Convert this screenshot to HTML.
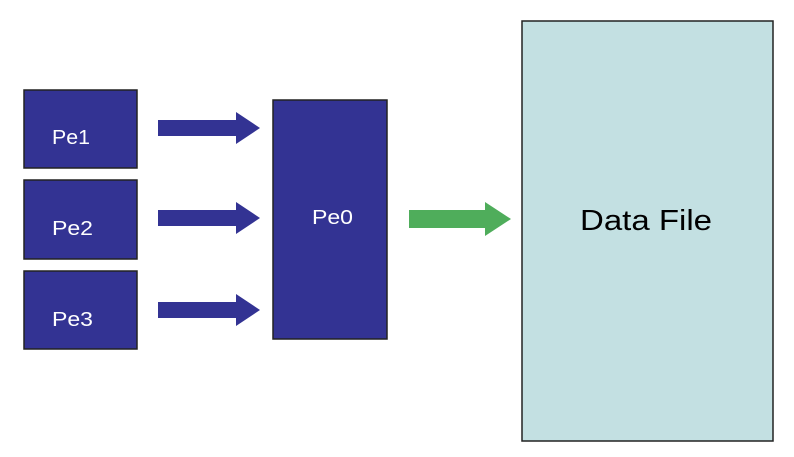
<!DOCTYPE html>
<html><head><style>
body{margin:0;width:794px;height:452px;background:#fff;overflow:hidden;font-family:"Liberation Sans",sans-serif}
</style></head><body>
<svg width="794" height="452" xmlns="http://www.w3.org/2000/svg">
<g fill="#333393" stroke="#222" stroke-width="1.5">
<rect x="24" y="90" width="113" height="78"/>
<rect x="24" y="180" width="113" height="79"/>
<rect x="24" y="271" width="113" height="78"/>
<rect x="273" y="100" width="114" height="239"/>
</g>
<rect x="522" y="21" width="251" height="420" fill="#c3e0e2" stroke="#222" stroke-width="1.5"/>
<g fill="#333393">
<polygon points="158,120 236,120 236,112 260,128 236,144 236,136 158,136"/>
<polygon points="158,210 236,210 236,202 260,218 236,234 236,226 158,226"/>
<polygon points="158,302 236,302 236,294 260,310 236,326 236,318 158,318"/>
</g>
<polygon fill="#4fad5b" points="409,210 485,210 485,202 511,219 485,236 485,228 409,228"/>
<g fill="#fff" font-size="20">
<text x="52" y="144" textLength="38" lengthAdjust="spacingAndGlyphs">Pe1</text>
<text x="52" y="235" textLength="41" lengthAdjust="spacingAndGlyphs">Pe2</text>
<text x="52" y="326" textLength="41" lengthAdjust="spacingAndGlyphs">Pe3</text>
<text x="312" y="224" textLength="41" lengthAdjust="spacingAndGlyphs">Pe0</text>
</g>
<text x="580" y="230" font-size="29" fill="#000" textLength="132" lengthAdjust="spacingAndGlyphs">Data File</text>
</svg>
</body></html>
